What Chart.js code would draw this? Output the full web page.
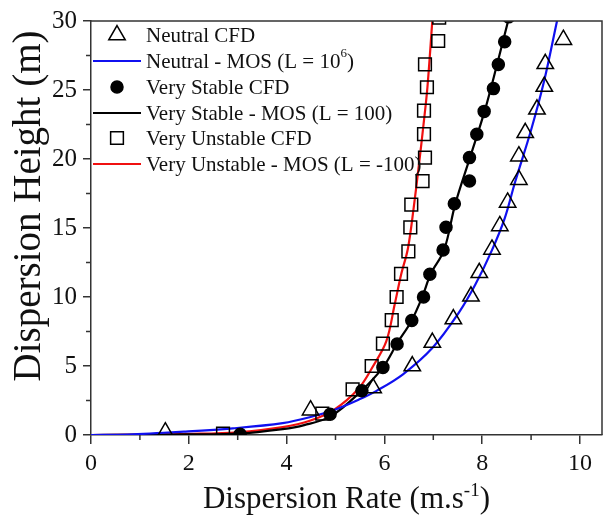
<!DOCTYPE html>
<html>
<head>
<meta charset="utf-8">
<script src="https://cdn.jsdelivr.net/npm/chart.js@4.4.1/dist/chart.umd.min.js"></script>
<style>
  html, body { margin: 0; padding: 0; background: #fff; }
  #wrap { width: 613px; height: 517px; }
</style>
</head>
<body>
<div id="wrap"><canvas id="dispChart" width="613" height="517"></canvas></div>
<script>
// values (x = dispersion rate m/s, y = height m)
const neutralCfdX = [1.52, 4.49, 5.77, 6.57, 6.98, 7.41, 7.77, 7.94, 8.20, 8.36, 8.52, 8.75, 8.75, 8.88, 9.12, 9.27, 9.29, 9.66];
const neutralCfdY = [0.2, 1.8, 3.4, 5.0, 6.7, 8.4, 10.05, 11.75, 13.45, 15.15, 16.85, 18.5, 20.2, 21.9, 23.6, 25.25, 26.9, 28.65];

const neutralMosX = [0, 0.75, 1.9, 2.9, 3.92, 4.49, 5.0, 5.5, 5.84, 6.38, 6.98, 7.52, 7.86, 8.2, 8.46, 8.67, 9.0, 9.27, 9.53];
const neutralMosY = [0, 0.03, 0.24, 0.48, 0.86, 1.3, 1.85, 2.6, 3.2, 4.4, 6.3, 8.85, 10.9, 13.4, 15.7, 18.3, 22.1, 25.7, 30];

const stableCfdX = [3.05, 4.89, 5.54, 5.97, 6.26, 6.56, 6.80, 6.93, 7.20, 7.26, 7.43, 7.74, 7.74, 7.89, 8.04, 8.23, 8.33, 8.46, 8.54];
const stableCfdY = [0.05, 1.5, 3.2, 4.9, 6.6, 8.3, 10.0, 11.65, 13.4, 15.05, 16.75, 18.4, 20.1, 21.8, 23.45, 25.1, 26.85, 28.5, 30.3];

const stableMosX = [0, 1.0, 2.0, 3.0, 3.92, 4.36, 4.9, 5.5, 5.97, 6.27, 6.55, 6.78, 6.95, 7.22, 7.45, 7.75, 8.06, 8.3, 8.53];
const stableMosY = [0, 0.01, 0.04, 0.1, 0.43, 0.72, 1.35, 3.1, 4.9, 6.7, 8.25, 10.05, 11.7, 13.4, 16.75, 20.1, 23.6, 26.8, 30];

const unstableCfdX = [2.7, 4.73, 5.35, 5.74, 5.97, 6.15, 6.25, 6.34, 6.49, 6.53, 6.55, 6.78, 6.83, 6.81, 6.81, 6.87, 6.83, 7.10, 7.12];
const unstableCfdY = [0.1, 1.55, 3.3, 5.0, 6.62, 8.32, 10.0, 11.68, 13.3, 15.05, 16.7, 18.4, 20.1, 21.8, 23.5, 25.2, 26.85, 28.55, 30.25];

const unstableMosX = [0, 1.0, 2.0, 3.0, 3.92, 4.49, 4.96, 5.47, 5.77, 6.04, 6.21, 6.34, 6.48, 6.6, 6.71, 6.8, 6.88, 6.98];
const unstableMosY = [0, 0.03, 0.08, 0.2, 0.57, 1.05, 1.8, 3.35, 5.0, 6.8, 9.45, 11.6, 13.5, 16.5, 19.7, 22.5, 25.2, 30];

const seriesLabels = [
  'Neutral CFD',
  'Neutral - MOS (L = 10^{6})',
  'Very Stable CFD',
  'Very Stable - MOS (L = 100)',
  'Very Unstable CFD',
  'Very Unstable - MOS (L = -100)'
];

const xTickValues = [0, 2, 4, 6, 8, 10];
const yTickValues = [0, 5, 10, 15, 20, 25, 30];
const xMinorTicks = [1, 3, 5, 7, 9];
const yMinorTicks = [2.5, 7.5, 12.5, 17.5, 22.5, 27.5];

const xTitle = 'Dispersion Rate (m.s^{-1})';
const yTitle = 'Dispersion Height (m)';

const SERIF = "'Times New Roman', 'Liberation Serif', serif";
const AXIS_COLOR = '#333';

const toPoints = (xs, ys) => xs.map((x, i) => ({ x: x, y: ys[i] }));

// text with ^{...} superscripts
function drawRich(ctx, text, x, y, size, align) {
  const parts = [];
  const re = /\^\{([^}]*)\}/g;
  let last = 0, m;
  while ((m = re.exec(text)) !== null) {
    if (m.index > last) parts.push({ t: text.slice(last, m.index), sup: false });
    parts.push({ t: m[1], sup: true });
    last = re.lastIndex;
  }
  if (last < text.length) parts.push({ t: text.slice(last), sup: false });

  const supSize = Math.round(size * 0.62);
  let total = 0;
  parts.forEach(p => {
    ctx.font = (p.sup ? supSize : size) + 'px ' + SERIF;
    p.w = ctx.measureText(p.t).width;
    total += p.w;
  });
  let cx = align === 'center' ? x - total / 2 : x;
  ctx.textAlign = 'left';
  parts.forEach(p => {
    ctx.font = (p.sup ? supSize : size) + 'px ' + SERIF;
    ctx.fillText(p.t, cx, p.sup ? y - size * 0.38 : y);
    cx += p.w;
  });
}

const extrasPlugin = {
  id: 'extras',
  afterDraw(chart) {
    const ctx = chart.ctx;
    const area = chart.chartArea;
    const xs = chart.scales.x, ys = chart.scales.y;
    ctx.save();

    // top and right frame
    ctx.strokeStyle = AXIS_COLOR;
    ctx.lineWidth = 1.5;
    ctx.beginPath();
    ctx.moveTo(area.left, area.top);
    ctx.lineTo(area.right, area.top);
    ctx.lineTo(area.right, area.bottom);
    ctx.stroke();

    // minor ticks
    ctx.beginPath();
    xMinorTicks.forEach(v => {
      const px = xs.getPixelForValue(v);
      ctx.moveTo(px, area.bottom);
      ctx.lineTo(px, area.bottom + 5);
    });
    yMinorTicks.forEach(v => {
      const py = ys.getPixelForValue(v);
      ctx.moveTo(area.left, py);
      ctx.lineTo(area.left - 5, py);
    });
    ctx.stroke();

    // axis titles
    ctx.fillStyle = '#111';
    ctx.textBaseline = 'alphabetic';
    drawRich(ctx, xTitle, (area.left + area.right) / 2, 508, 31, 'center');

    ctx.save();
    ctx.translate(40, 206);
    ctx.rotate(-Math.PI / 2);
    drawRich(ctx, yTitle, 0, 0, 39, 'center');
    ctx.restore();

    // legend
    const rowY = [35, 61, 87, 113, 138, 164];
    chart.data.datasets.forEach((ds, i) => {
      const y = rowY[i];
      if (ds.showLine) {
        ctx.strokeStyle = ds.borderColor;
        ctx.lineWidth = ds.borderWidth;
        ctx.beginPath();
        ctx.moveTo(93, y);
        ctx.lineTo(141, y);
        ctx.stroke();
      } else {
        ctx.strokeStyle = ds.borderColor;
        ctx.fillStyle = ds.backgroundColor;
        ctx.lineWidth = ds.borderWidth;
        Chart.helpers.drawPoint(ctx, {
          pointStyle: ds.pointStyle,
          radius: ds.pointRadius,
          rotation: 0,
          borderWidth: ds.borderWidth
        }, 117, y);
      }
      ctx.fillStyle = '#111';
      ctx.textBaseline = 'middle';
      drawRich(ctx, seriesLabels[i], 146, y + 1, 21, 'left');
    });

    ctx.restore();
  }
};

function markerSet(label, xs, ys, style, radius, fill) {
  return {
    label: label,
    data: toPoints(xs, ys),
    showLine: false,
    pointStyle: style,
    pointRadius: radius,
    pointHoverRadius: radius,
    borderColor: '#000',
    backgroundColor: fill,
    borderWidth: 1.5,
    clip: 0,
    order: 1
  };
}

function lineSet(label, xs, ys, color) {
  return {
    label: label,
    data: toPoints(xs, ys),
    showLine: true,
    pointRadius: 0,
    borderColor: color,
    backgroundColor: color,
    borderWidth: 2.2,
    tension: 0.35,
    clip: 0,
    order: 2
  };
}

new Chart(document.getElementById('dispChart'), {
  type: 'scatter',
  data: {
    datasets: [
      markerSet(seriesLabels[0], neutralCfdX, neutralCfdY, 'triangle', 9.5, 'rgba(0,0,0,0)'),
      lineSet(seriesLabels[1], neutralMosX, neutralMosY, '#1010f0'),
      markerSet(seriesLabels[2], stableCfdX, stableCfdY, 'circle', 6, '#000'),
      lineSet(seriesLabels[3], stableMosX, stableMosY, '#000'),
      markerSet(seriesLabels[4], unstableCfdX, unstableCfdY, 'rect', 9, 'rgba(0,0,0,0)'),
      lineSet(seriesLabels[5], unstableMosX, unstableMosY, '#f01010')
    ]
  },
  options: {
    responsive: false,
    animation: false,
    devicePixelRatio: 1,
    layout: { padding: { top: 17, right: 4, left: 0, bottom: 0 } },
    plugins: {
      legend: { display: false },
      tooltip: { enabled: false }
    },
    scales: {
      x: {
        type: 'linear',
        min: 0,
        max: 10.45,
        afterBuildTicks: scale => { scale.ticks = xTickValues.map(v => ({ value: v })); },
        afterFit: scale => { scale.height = 82; },
        ticks: {
          font: { family: SERIF, size: 24 },
          color: '#111',
          padding: 5,
          maxRotation: 0
        },
        grid: { drawOnChartArea: false, drawTicks: true, tickLength: 9, color: AXIS_COLOR, lineWidth: 1.5 },
        border: { display: true, color: AXIS_COLOR, width: 1.5 }
      },
      y: {
        type: 'linear',
        min: 0,
        max: 30,
        afterBuildTicks: scale => { scale.ticks = yTickValues.map(v => ({ value: v })); },
        afterFit: scale => { scale.width = 91; },
        ticks: {
          font: { family: SERIF, size: 25 },
          color: '#111',
          padding: 6
        },
        grid: { drawOnChartArea: false, drawTicks: true, tickLength: 8, color: AXIS_COLOR, lineWidth: 1.5 },
        border: { display: true, color: AXIS_COLOR, width: 1.5 }
      }
    }
  },
  plugins: [extrasPlugin]
});
</script>
</body>
</html>
